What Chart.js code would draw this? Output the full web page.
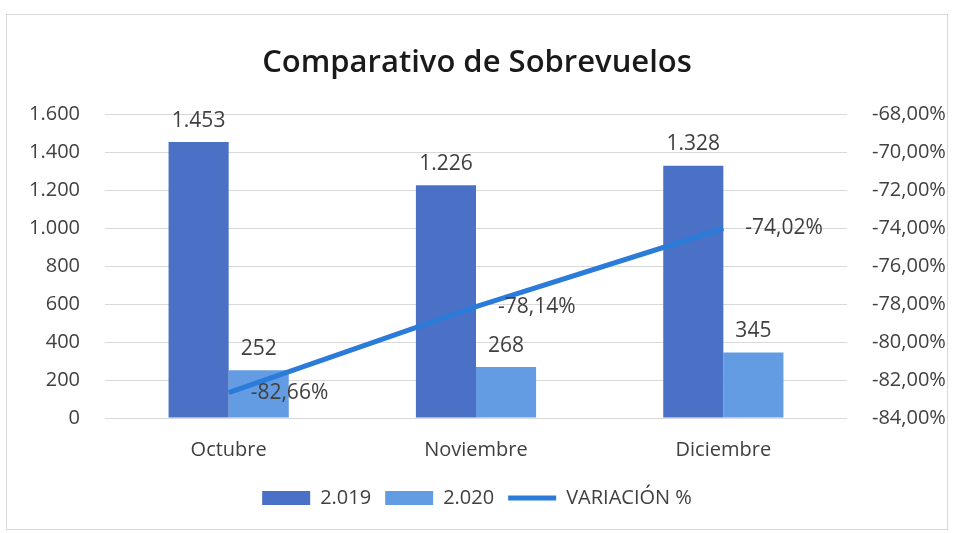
<!DOCTYPE html>
<html>
<head>
<meta charset="utf-8">
<script src="https://cdn.jsdelivr.net/npm/chart.js@4"></script>
<style>
  html, body { margin: 0; padding: 0; background: #fff; }
  #frame { position: absolute; left: 6px; top: 14px; width: 940px; height: 514px; border: 1px solid #d9d9d9; }
  #chartBox { position: absolute; left: 0; top: 0; width: 954px; height: 533px; }
</style>
</head>
<body>
<div id="frame"></div>
<div id="chartBox"><canvas id="chart" width="954" height="533"></canvas></div>
<script>
const months = ['Octubre', 'Noviembre', 'Diciembre'];
const flights2019 = [1453, 1226, 1328];
const flights2020 = [252, 268, 345];
const variation = [-82.66, -78.14, -74.02];

const fmtThousands = v => Math.round(v).toString().replace(/\B(?=(\d{3})+(?!\d))/g, '.');
const fmtPct = v => v.toFixed(2).replace('.', ',') + '%';

const FONT = '"Open Sans", sans-serif';

// value labels drawn next to bars and line points
const valueLabels = {
    id: 'valueLabels',
    afterDatasetsDraw(chart) {
        const ctx = chart.ctx;
        ctx.save();
        ctx.font = '21px ' + FONT;
        ctx.fillStyle = '#404040';
        chart.data.datasets.forEach((ds, i) => {
            const meta = chart.getDatasetMeta(i);
            meta.data.forEach((el, j) => {
                if (ds.type === 'line') {
                    ctx.textAlign = 'left';
                    ctx.textBaseline = 'middle';
                    ctx.fillText(fmtPct(ds.data[j]), el.x + 22, el.y);
                } else {
                    ctx.textAlign = 'center';
                    ctx.textBaseline = 'bottom';
                    ctx.fillText(fmtThousands(ds.data[j]), el.x, el.y - 11);
                }
            });
        });
        ctx.restore();
    }
};

const ctx = document.getElementById('chart').getContext('2d');
new Chart(ctx, {
    data: {
        labels: months,
        datasets: [{
            type: 'bar',
            label: '2.019',
            data: flights2019,
            backgroundColor: '#4a71c6',
            yAxisID: 'y',
            pointStyle: 'rect',
            order: 2
        }, {
            type: 'bar',
            label: '2.020',
            data: flights2020,
            backgroundColor: '#649ce4',
            yAxisID: 'y',
            pointStyle: 'rect',
            order: 2
        }, {
            type: 'line',
            label: 'VARIACIÓN %',
            data: variation,
            borderColor: '#2b7bd8',
            backgroundColor: '#2b7bd8',
            borderWidth: 5,
            pointRadius: 0,
            pointStyle: 'line',
            yAxisID: 'y1',
            order: 1
        }]
    },
    options: {
        responsive: false,
        animation: false,
        layout: { padding: { left: 0, right: 0, top: 10, bottom: 15 } },
        datasets: {
            bar: { categoryPercentage: 0.486, barPercentage: 1 }
        },
        plugins: {
            title: {
                display: true,
                text: 'Comparativo de Sobrevuelos',
                color: '#1a1a1a',
                font: { family: FONT, size: 31, weight: '600' },
                padding: { top: 35, bottom: 32 }
            },
            legend: {
                position: 'bottom',
                labels: {
                    usePointStyle: true,
                    pointStyleWidth: 48,
                    boxHeight: 14,
                    color: '#404040',
                    font: { family: FONT, size: 20 },
                    padding: 14,
                    sort: (a, b) => a.datasetIndex - b.datasetIndex
                }
            },
            tooltip: { enabled: false }
        },
        scales: {
            x: {
                grid: { display: false },
                border: { display: false },
                ticks: { color: '#404040', font: { family: FONT, size: 20 }, padding: 12 }
            },
            y: {
                position: 'left',
                min: 0,
                max: 1600,
                afterFit: s => { s.width = 105; },
                ticks: {
                    stepSize: 200,
                    color: '#404040',
                    font: { family: FONT, size: 20 },
                    padding: 25,
                    callback: v => fmtThousands(v)
                },
                grid: { color: '#d9d9d9', drawTicks: false },
                border: { display: false }
            },
            y1: {
                position: 'right',
                min: -84,
                max: -68,
                afterFit: s => { s.width = 107; },
                ticks: {
                    stepSize: 2,
                    color: '#404040',
                    font: { family: FONT, size: 20 },
                    padding: 25,
                    callback: v => fmtPct(v)
                },
                grid: { display: false, drawTicks: false },
                border: { display: false }
            }
        }
    },
    plugins: [valueLabels]
});
</script>
</body>
</html>
